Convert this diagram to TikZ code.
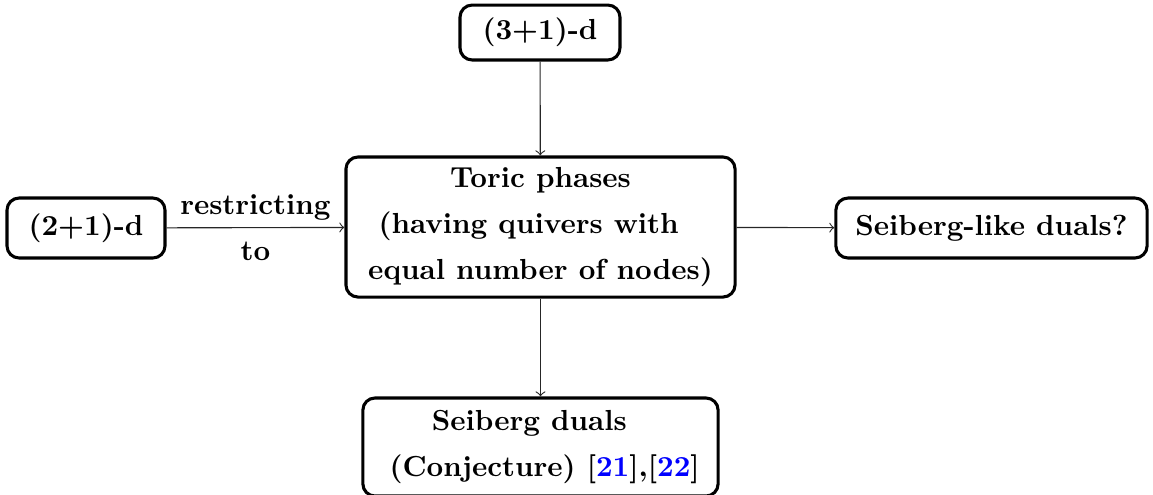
\documentclass[tikz,border=0pt]{standalone}
\usepackage{xcolor}
\begin{document}
\begin{tikzpicture}[x=0.357pt, y=-0.357pt,
  txt/.style={font=\fontsize{10.35}{12.4}\selectfont\bfseries, align=center, text=black},
  box/.style={txt, draw, line width=1.1pt, rounded corners=4.3pt, inner sep=1pt},
  conn/.style={->, line width=0.4pt, black!85}]
\useasboundingbox (0,0) rectangle (1153,494);
\node[box, minimum width=57.1pt, minimum height=19.6pt] (top) at (540,32.5) {(3+1)-d};
\node[box, minimum width=138.9pt, minimum height=50pt] (toric) at (540.5,227) {Toric phases\\[4pt] (having quivers with\rule{8.5pt}{0pt}\\[4pt] equal number of nodes)};
\node[box, minimum width=56.4pt, minimum height=21.4pt] (left) at (86,228) {(2+1)-d};
\node[box, minimum width=111.1pt, minimum height=21.4pt] (right) at (991.5,228) {Seiberg-like duals?};
\node[box, minimum width=126.8pt, minimum height=35pt] (bot) at (540.5,447) {Seiberg duals\hspace*{8pt}\\[4pt] \hspace*{3pt}(Conjecture) [\textcolor{blue}{21}],[\textcolor{blue}{22}]};
\draw[conn] (top) -- (toric);
\draw[conn] (left) -- node[midway, txt] (lab) {restricting\\[4pt]to} (toric);
\draw[conn] (toric) -- (right);
\draw[conn] (toric) -- (bot);
\end{tikzpicture}
\end{document}
